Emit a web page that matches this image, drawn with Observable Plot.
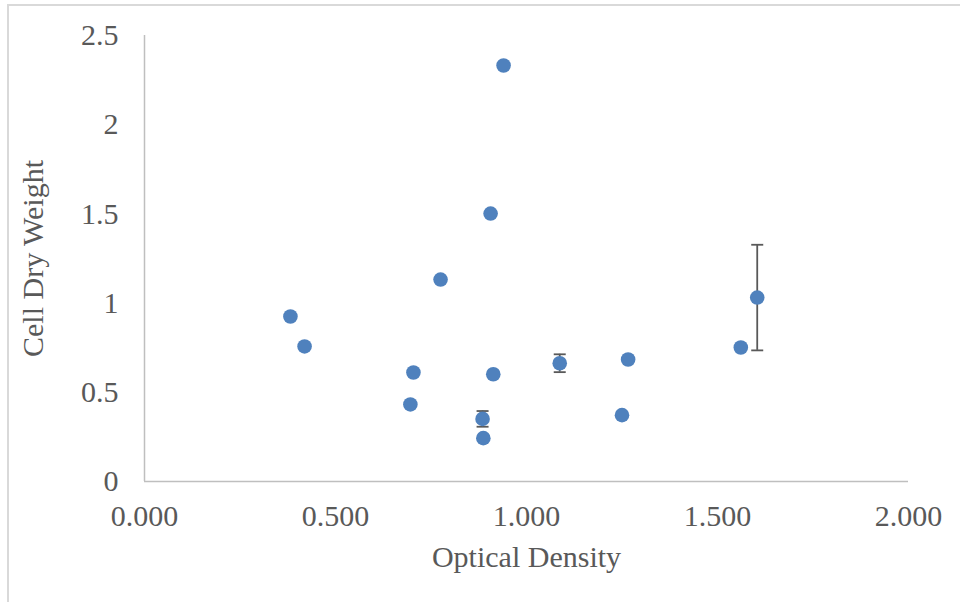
<!DOCTYPE html>
<html>
<head>
<meta charset="utf-8">
<script src="https://cdn.jsdelivr.net/npm/d3@7"></script>
<script src="https://cdn.jsdelivr.net/npm/@observablehq/plot@0.6"></script>
<style>
  html, body { margin: 0; padding: 0; background: #fff; }
  #wrap { position: relative; width: 960px; height: 602px; overflow: hidden; }
  #frame { position: absolute; left: 7px; top: 4px; width: 1000px; height: 700px;
           border-left: 2px solid #d9d9d9; border-top: 2px solid #d9d9d9; pointer-events: none; }
  #chart { position: absolute; left: 0; top: 0; }
</style>
</head>
<body>
<div id="wrap"><div id="frame"></div><div id="chart"></div></div>
<script>
// Data
const opticalDensity = [0.382, 0.419, 0.696, 0.704, 0.775, 0.885, 0.887, 0.906, 0.913, 0.940, 1.087, 1.250, 1.266, 1.561, 1.604];
const cellDryWeight  = [0.925, 0.757, 0.432, 0.611, 1.132, 0.351, 0.243, 1.502, 0.601, 2.332, 0.663, 0.372, 0.684, 0.751, 1.031];
const errorAmount    = [0, 0, 0, 0, 0, 0.044, 0, 0, 0, 0, 0.050, 0, 0, 0, 0.296];
const xTicks = [0, 0.5, 1, 1.5, 2];
const yTicks = [0, 0.5, 1, 1.5, 2, 2.5];
const xTitle = "Optical Density";
const yTitle = "Cell Dry Weight";

const points = opticalDensity.map((x, i) => ({x, y: cellDryWeight[i], e: errorAmount[i]}));
const bars = points.filter(d => d.e > 0);
const caps = bars.flatMap(d => [{x: d.x, y: d.y - d.e}, {x: d.x, y: d.y + d.e}]);

const capSymbol = {
  draw(context, size) {
    const w = Math.sqrt(size / Math.PI);
    context.moveTo(-w, 0);
    context.lineTo(w, 0);
  }
};

const axisColor = "#bfbfbf";
const textColor = "#595959";
const fs = 30;

const chart = Plot.plot({
  width: 960,
  height: 602,
  marginLeft: 144,
  marginRight: 52,
  marginTop: 35,
  marginBottom: 121,
  style: { fontFamily: "'Liberation Serif', 'Times New Roman', serif", fontSize: fs + "px", color: textColor, background: "transparent" },
  x: { domain: [0, 2] },
  y: { domain: [0, 2.5] },
  marks: [
    Plot.ruleY([0], { stroke: axisColor, strokeWidth: 1.5 }),
    Plot.ruleX([0], { stroke: axisColor, strokeWidth: 1.5 }),
    Plot.axisX({ ticks: xTicks, tickFormat: d3.format(".3f"), tickSize: 0, tickPadding: 23, label: null, fill: textColor, fontSize: fs }),
    Plot.axisY({ ticks: yTicks, tickFormat: d => String(d), tickSize: 0, tickPadding: 26, label: null, fill: textColor, fontSize: fs }),
    Plot.text([xTitle], { frameAnchor: "bottom", dy: 85, lineAnchor: "bottom", fill: textColor, fontSize: fs }),
    Plot.text([yTitle], { frameAnchor: "left", dx: -111, rotate: -90, textAnchor: "middle", fill: textColor, fontSize: fs }),
    Plot.ruleX(bars, { x: "x", y1: d => d.y - d.e, y2: d => d.y + d.e, stroke: "#595959", strokeWidth: 1.8 }),
    Plot.dot(caps, { x: "x", y: "y", r: 6, symbol: capSymbol, stroke: "#595959", strokeWidth: 1.8, fill: "none" }),
    Plot.dot(points, { x: "x", y: "y", r: 7.3, fill: "#4f81bd", stroke: "none" })
  ]
});
document.getElementById("chart").appendChild(chart);
</script>
</body>
</html>
